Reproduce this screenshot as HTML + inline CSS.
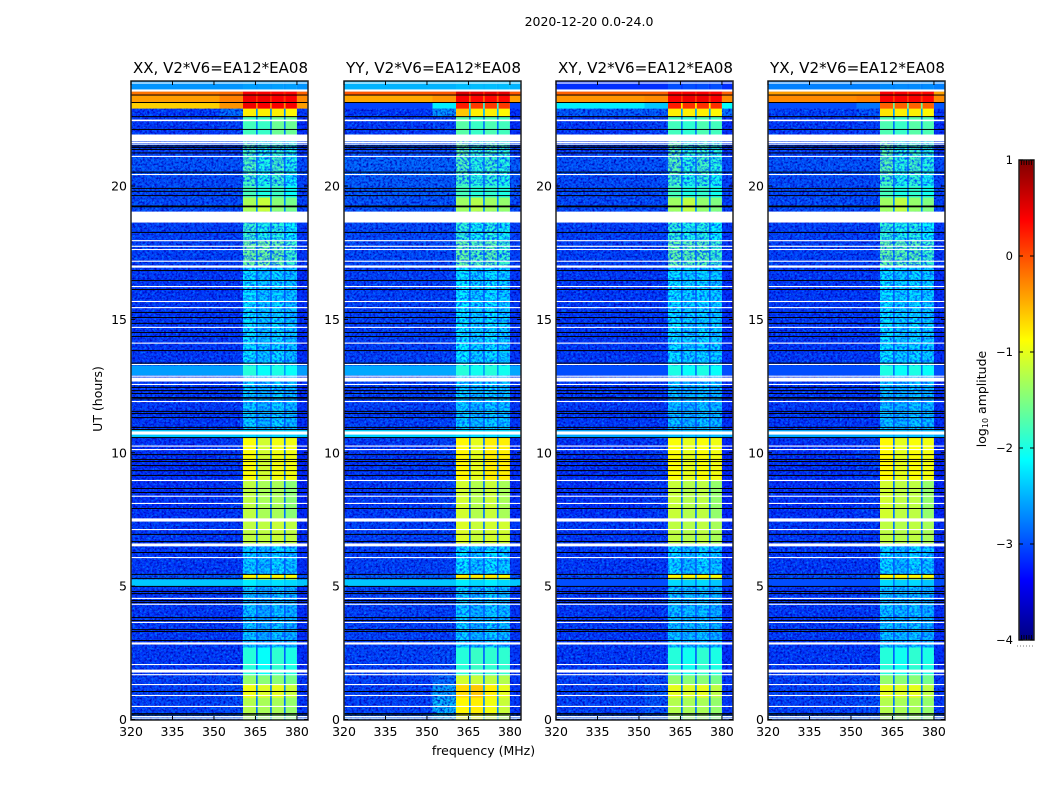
<!DOCTYPE html>
<html lang="en">
<head>
<meta charset="utf-8">
<title>2020-12-20 dynamic spectra</title>
<style>
html,body{margin:0;padding:0;background:#fff;}
svg{display:block;}
text{font-family:"DejaVu Sans","Liberation Sans",sans-serif;fill:#000;}
</style>
</head>
<body>
<svg id="figure" width="1050" height="800" viewBox="0 0 1050 800" xmlns="http://www.w3.org/2000/svg">
  <defs>
    <filter id="speckle-dark" filterUnits="userSpaceOnUse" x="0" y="0" width="1050" height="800" color-interpolation-filters="sRGB">
      <feTurbulence type="fractalNoise" baseFrequency="0.42 0.5" numOctaves="2" seed="4"/>
      <feColorMatrix values="0 0 0 0 0  0 0 0 0 0  0 0 0 0 0.72  2.6 0 0 0 -1.1"/>
      <feComposite in2="SourceAlpha" operator="in"/>
    </filter>
    <filter id="speckle-light" filterUnits="userSpaceOnUse" x="0" y="0" width="1050" height="800" color-interpolation-filters="sRGB">
      <feTurbulence type="fractalNoise" baseFrequency="0.45 0.48" numOctaves="2" seed="11"/>
      <feColorMatrix values="0 0 0 0 0  0 0 0 0 0.5  0 0 0 0 1  0 2.6 0 0 -1.15"/>
      <feComposite in2="SourceAlpha" operator="in"/>
    </filter>
    <filter id="speckle-band" filterUnits="userSpaceOnUse" x="0" y="0" width="1050" height="800" color-interpolation-filters="sRGB">
      <feTurbulence type="fractalNoise" baseFrequency="0.4 0.45" numOctaves="2" seed="7"/>
      <feColorMatrix values="0 0 0 0 0  0 0 0 0 0.32  0 0 0 0 1  3 0 0 0 -1.2"/>
      <feComposite in2="SourceAlpha" operator="in"/>
    </filter>
    <linearGradient id="jet-gradient" x1="0" y1="1" x2="0" y2="0"></linearGradient>
  </defs>
  <text x="589" y="26" font-size="12.5" text-anchor="middle">2020-12-20 0.0-24.0</text>
  <text x="483.5" y="755" font-size="12.5" text-anchor="middle">frequency (MHz)</text>
  <text x="0" y="0" font-size="12.5" text-anchor="middle" transform="translate(102,399) rotate(-90)">UT (hours)</text>
  <text x="0" y="0" font-size="12.5" text-anchor="middle" transform="translate(986,399) rotate(-90)">log<tspan font-size="8" dy="2">10</tspan><tspan dy="-2"> amplitude</tspan></text>
  <g id="panels"></g>
  <g id="colorbar"></g>
</svg>
<script>
// Panel titles and axis ticks
const panelTitles = ['XX, V2*V6=EA12*EA08', 'YY, V2*V6=EA12*EA08', 'XY, V2*V6=EA12*EA08', 'YX, V2*V6=EA12*EA08'];
const freqTicks = [320, 335, 350, 365, 380];
const hourTicks = [0, 5, 10, 15, 20];
const colorbarTicks = [-4, -3, -2, -1, 0, 1];
const colorbarTickLabels = ['\u22124', '\u22123', '\u22122', '\u22121', '0', '1'];

// Frequency channel groups in MHz
const channelStarts = [320, 352, 360.5, 365.2, 370.3, 375.3, 380, 365.2, 370.3, 375.3];
const channelEnds = [352, 360.5, 365.2, 370.3, 375.3, 380, 384, 365.8, 370.9, 375.9];

// Time bands in UT hours
const bandTop = [23.92, 23.54, 23.39, 23.13, 22.90, 22.60, 21.93, 21.11, 20.43, 19.57, 19.04, 17.96, 16.94, 13.27, 12.90, 10.87, 10.57, 8.96, 7.54, 6.60, 5.44, 5.25, 4.99, 2.70, 1.65, 1.31, 0.82, 0.22];
const bandBottom = [23.54, 23.39, 23.13, 22.90, 22.60, 21.93, 21.11, 20.43, 19.57, 19.04, 17.96, 16.94, 13.27, 12.90, 10.87, 10.57, 8.96, 7.54, 6.60, 5.44, 5.25, 4.99, 2.70, 1.65, 1.31, 0.82, 0.22, 0];

// log10 amplitude per band: outL, outM, sb1, sb2, sb3, sb4, outR, notch
const xxLevels = [
[-2.65,-2.65,-2.6,-2.6,-2.6,-2.6,-2.65,-2.65],
[-0.2,-0.15,0.4,0.4,0.35,0.35,-0.1,0.2],
[-0.4,-0.25,0.45,0.45,0.4,0.4,-0.3,0.15],
[-0.65,-0.35,0.45,0.4,0.4,0.4,-0.4,-0.3],
[-3.1,-2.8,-0.8,-0.8,-0.8,-0.85,-3.05,-2.7],
[-3.1,-3.05,-1.8,-1.85,-1.6,-1.6,-3.1,-2.8],
[-3.05,-3.05,-1.8,-2.0,-1.9,-2.0,-3.05,-2.8],
[-2.95,-2.95,-1.75,-2.0,-1.8,-2.0,-2.95,-2.8],
[-3.0,-3.0,-1.8,-2.0,-1.85,-2.1,-3.0,-2.8],
[-3.0,-3.0,-1.3,-1.15,-1.45,-1.55,-3.0,-2.7],
[-3.05,-3.05,-1.85,-2.0,-1.95,-2.1,-3.05,-2.8],
[-3.05,-3.05,-1.6,-1.6,-1.65,-1.85,-3.05,-2.8],
[-3.1,-3.1,-2.2,-2.35,-2.25,-2.35,-3.1,-2.9],
[-2.6,-2.6,-1.95,-2.1,-2.0,-2.1,-2.6,-2.6],
[-3.1,-3.1,-2.3,-2.45,-2.3,-2.4,-3.1,-2.9],
[-2.4,-2.4,-2.35,-2.35,-2.35,-2.35,-2.4,-2.45],
[-3.15,-3.1,-0.9,-1.1,-0.95,-0.95,-3.15,-2.8],
[-3.15,-3.1,-1.2,-1.3,-1.3,-1.45,-3.15,-2.8],
[-3.1,-3.1,-1.2,-1.2,-1.15,-1.2,-3.1,-2.8],
[-3.1,-3.1,-2.3,-2.4,-2.25,-2.35,-3.1,-2.9],
[-2.95,-2.95,-0.85,-0.85,-0.85,-0.9,-2.95,-2.6],
[-2.4,-2.4,-2.2,-2.3,-2.25,-2.3,-2.4,-2.4],
[-3.1,-3.1,-2.35,-2.5,-2.35,-2.45,-3.1,-2.9],
[-3.1,-3.1,-1.95,-2.1,-1.9,-2.0,-3.1,-2.9],
[-3.05,-3.0,-1.4,-1.45,-1.45,-1.55,-3.05,-2.8],
[-3.05,-3.0,-0.95,-1.05,-1.0,-1.15,-3.05,-2.7],
[-3.05,-3.0,-1.25,-1.3,-1.3,-1.4,-3.05,-2.8],
[-2.9,-2.9,-1.35,-1.4,-1.4,-1.5,-2.9,-2.6]
];
const yyLevels = [
[-2.5,-2.5,-2.45,-2.45,-2.45,-2.45,-2.5,-2.5],
[-0.05,-0.05,0.55,0.5,0.5,0.5,-0.05,0.2],
[-0.45,-0.35,0.4,0.35,0.35,0.35,-0.4,-0.1],
[-3.05,-2.2,0.25,0.1,0.1,0.1,-3.05,-1.9],
[-3.1,-2.6,-0.6,-0.8,-0.8,-0.85,-3.1,-2.5],
[-3.1,-3.05,-1.7,-1.85,-1.75,-1.8,-3.1,-2.8],
[-3.0,-3.0,-1.65,-1.9,-1.8,-1.9,-3.0,-2.8],
[-2.85,-2.85,-1.75,-1.95,-1.85,-1.95,-2.85,-2.7],
[-2.9,-2.9,-1.8,-1.95,-1.9,-2.0,-2.9,-2.8],
[-2.95,-2.95,-1.35,-1.25,-1.35,-1.4,-2.95,-2.7],
[-3.0,-3.0,-1.9,-2.05,-1.95,-2.05,-3.0,-2.8],
[-3.0,-3.0,-1.65,-1.75,-1.7,-1.85,-3.0,-2.8],
[-3.05,-3.05,-2.15,-2.3,-2.2,-2.3,-3.05,-2.9],
[-2.55,-2.55,-1.95,-2.05,-1.95,-2.05,-2.55,-2.6],
[-3.05,-3.05,-2.3,-2.4,-2.3,-2.35,-3.05,-2.9],
[-2.35,-2.35,-2.3,-2.3,-2.3,-2.3,-2.35,-2.45],
[-3.1,-3.05,-0.85,-1.0,-0.8,-0.8,-3.1,-2.8],
[-3.1,-3.05,-1.1,-1.25,-1.15,-1.3,-3.1,-2.8],
[-3.05,-3.05,-1.05,-1.15,-1.1,-1.1,-3.05,-2.8],
[-3.05,-3.05,-2.2,-2.35,-2.2,-2.3,-3.05,-2.9],
[-2.9,-2.9,-0.8,-0.8,-0.8,-0.85,-2.9,-2.6],
[-2.4,-2.4,-2.2,-2.3,-2.2,-2.3,-2.4,-2.4],
[-3.05,-3.05,-2.3,-2.45,-2.3,-2.4,-3.05,-2.9],
[-3.05,-3.0,-1.95,-1.85,-1.9,-1.9,-3.05,-2.9],
[-3.05,-2.8,-1.1,-1.15,-1.2,-1.25,-3.05,-2.7],
[-3.05,-2.5,-0.7,-0.6,-0.8,-1.0,-3.05,-2.6],
[-3.05,-2.4,-0.85,-0.8,-0.95,-1.15,-3.05,-2.7],
[-2.85,-2.35,-1.0,-1.0,-1.15,-1.3,-2.85,-2.5]
];
const xyLevels = [
[-3.15,-3.15,-3.0,-3.0,-3.0,-3.0,-3.15,-3.1],
[-0.1,-0.1,0.4,0.4,0.4,0.35,-0.1,0.2],
[-0.35,-0.3,0.4,0.45,0.45,0.4,-0.3,0.1],
[-2.2,-2.4,0.25,0.15,0.15,0.15,-2.1,-0.8],
[-2.9,-2.9,-0.8,-0.8,-0.8,-0.85,-2.8,-2.6],
[-3.1,-3.05,-1.8,-1.9,-1.75,-1.8,-3.1,-2.8],
[-3.05,-3.05,-1.7,-1.95,-1.85,-1.95,-3.05,-2.8],
[-2.95,-2.95,-1.7,-1.95,-1.8,-1.95,-2.95,-2.8],
[-3.0,-3.0,-1.8,-2.0,-1.9,-2.05,-3.0,-2.8],
[-3.0,-3.0,-1.35,-1.2,-1.4,-1.5,-3.0,-2.7],
[-3.05,-3.05,-1.9,-2.0,-1.95,-2.1,-3.05,-2.8],
[-3.05,-3.05,-1.65,-1.7,-1.7,-1.85,-3.05,-2.8],
[-3.1,-3.1,-2.2,-2.3,-2.25,-2.3,-3.1,-2.9],
[-3.0,-3.0,-2.0,-2.1,-2.0,-2.1,-3.0,-2.8],
[-3.1,-3.1,-2.35,-2.45,-2.35,-2.4,-3.1,-2.9],
[-2.55,-2.55,-2.45,-2.45,-2.45,-2.45,-2.55,-2.6],
[-3.15,-3.1,-0.9,-1.0,-0.9,-0.95,-3.15,-2.8],
[-3.15,-3.1,-1.15,-1.25,-1.2,-1.4,-3.15,-2.8],
[-3.1,-3.1,-1.2,-1.25,-1.2,-1.3,-3.1,-2.8],
[-3.1,-3.1,-2.25,-2.4,-2.25,-2.35,-3.1,-2.9],
[-3.0,-3.0,-0.85,-0.85,-0.85,-0.9,-3.0,-2.6],
[-3.0,-3.0,-2.3,-2.35,-2.3,-2.4,-3.0,-2.8],
[-3.1,-3.1,-2.35,-2.4,-2.35,-2.45,-3.1,-2.9],
[-3.1,-3.1,-1.95,-2.05,-1.9,-2.0,-3.1,-2.9],
[-3.05,-3.0,-1.4,-1.45,-1.45,-1.55,-3.05,-2.8],
[-3.05,-2.95,-1.0,-1.05,-1.0,-1.2,-3.05,-2.7],
[-3.05,-2.95,-1.25,-1.3,-1.3,-1.4,-3.05,-2.8],
[-2.9,-2.9,-1.35,-1.4,-1.4,-1.5,-2.9,-2.6]
];
const yxLevels = [
[-2.75,-2.75,-2.7,-2.7,-2.7,-2.7,-2.75,-2.75],
[-0.4,-0.4,0.4,0.4,0.35,0.35,-0.4,0.1],
[-0.3,-0.25,0.4,0.4,0.4,0.35,-0.3,0.1],
[-3.0,-2.8,-0.1,-0.1,-0.1,-0.1,-2.95,-1.6],
[-3.05,-2.95,-0.75,-0.8,-0.8,-0.85,-3.05,-2.6],
[-3.1,-3.05,-1.75,-1.85,-1.7,-1.75,-3.1,-2.8],
[-3.05,-3.05,-1.7,-1.95,-1.85,-1.95,-3.05,-2.8],
[-2.95,-2.95,-1.7,-1.95,-1.8,-1.95,-2.95,-2.8],
[-3.0,-3.0,-1.8,-2.0,-1.9,-2.05,-3.0,-2.8],
[-3.0,-3.0,-1.35,-1.2,-1.4,-1.5,-3.0,-2.7],
[-3.05,-3.05,-1.9,-2.0,-1.95,-2.1,-3.05,-2.8],
[-3.05,-3.05,-1.65,-1.7,-1.7,-1.85,-3.05,-2.8],
[-3.1,-3.1,-2.2,-2.3,-2.25,-2.3,-3.1,-2.9],
[-3.0,-3.0,-2.0,-2.1,-2.0,-2.1,-3.0,-2.8],
[-3.1,-3.1,-2.35,-2.45,-2.35,-2.4,-3.1,-2.9],
[-2.55,-2.55,-2.45,-2.45,-2.45,-2.45,-2.55,-2.6],
[-3.15,-3.1,-0.85,-1.0,-0.9,-0.95,-3.15,-2.8],
[-3.15,-3.1,-1.1,-1.2,-1.2,-1.4,-3.15,-2.8],
[-3.1,-3.1,-1.2,-1.25,-1.2,-1.3,-3.1,-2.8],
[-3.1,-3.1,-2.25,-2.4,-2.25,-2.35,-3.1,-2.9],
[-3.0,-3.0,-0.85,-0.85,-0.85,-0.9,-3.0,-2.6],
[-3.0,-3.0,-2.3,-2.35,-2.3,-2.4,-3.0,-2.8],
[-3.1,-3.1,-2.35,-2.4,-2.35,-2.45,-3.1,-2.9],
[-3.1,-3.1,-1.95,-2.05,-1.9,-2.0,-3.1,-2.9],
[-3.05,-3.0,-1.4,-1.45,-1.45,-1.55,-3.05,-2.8],
[-3.05,-3.0,-1.0,-1.05,-1.0,-1.2,-3.05,-2.7],
[-3.05,-3.0,-1.25,-1.3,-1.3,-1.4,-3.05,-2.8],
[-2.9,-2.9,-1.35,-1.4,-1.4,-1.5,-2.9,-2.6]
];

// Flagged time ranges (white) and dropped integrations (black), UT hours
const flagBlockTop = [23.62, 22.49, 21.93, 19.04, 17.02, 12.82, 10.80, 7.54, 6.60, 2.89, 1.87];
const flagBlockBottom = [23.54, 22.43, 21.67, 18.63, 16.94, 12.67, 10.68, 7.42, 6.49, 2.81, 1.76];
const flagLineHours = [23.86, 21.63, 21.57, 21.11, 20.43, 17.95, 17.74, 17.62, 17.18, 16.23, 15.67, 15.44, 14.70, 14.11, 13.31, 12.87, 12.56, 11.92, 10.25, 10.12, 8.96, 8.37, 8.10, 7.12, 6.07, 4.54, 4.32, 3.64, 2.06, 1.68, 1.31, 0.90, 0.49, 0.11, 0.05];
const dropLineHours = [23.41, 23.13, 22.60, 22.12, 21.50, 21.44, 21.37, 21.24, 20.52, 19.91, 19.80, 19.64, 19.25, 19.22, 18.26, 16.83, 16.46, 16.12, 15.26, 15.07, 14.85, 14.51, 14.36, 13.83, 13.36, 12.45, 12.33, 12.22, 12.07, 12.02, 11.55, 11.47, 11.32, 10.95, 10.87, 10.57, 9.93, 9.75, 9.67, 9.52, 9.33, 9.15, 8.66, 8.51, 7.91, 6.94, 6.67, 6.26, 5.44, 5.29, 4.99, 4.80, 4.72, 4.46, 4.39, 3.82, 3.71, 3.37, 3.30, 2.96, 1.05, 0.22, 0.17];

// Time spans where the receiver noise grain is visible (UT hours)
const outGrainTop = [22.90, 12.90, 10.57, 4.99];
const outGrainBottom = [13.27, 10.87, 5.25, 0];
const bandGrainTop = [21.93, 19.04, 12.90, 6.60, 4.99];
const bandGrainBottom = [20.00, 13.27, 10.87, 5.44, 2.70];

const panelLevels = [xxLevels, yyLevels, xyLevels, yxLevels];
const panelNames = ['xx', 'yy', 'xy', 'yx'];
const panelLefts = [131, 344, 556, 768];

const NS = 'http://www.w3.org/2000/svg';
const panelWidth = 177;
const plotTop = 81;
const plotBottom = 720;

function xScale(left, mhz) { return left + (mhz - 320) * panelWidth / 64; }
function yScale(hour) { return 719.5 - hour * 26.675; }
function clamp01(v) { return Math.max(0, Math.min(1, v)); }
function jet(level) {
  const t = clamp01((level + 4) / 5);
  const r = clamp01(Math.min(4 * t - 1.5, -4 * t + 4.5));
  const g = clamp01(Math.min(4 * t - 0.5, -4 * t + 3.5));
  const b = clamp01(Math.min(4 * t + 0.5, -4 * t + 2.5));
  return 'rgb(' + Math.round(r * 255) + ',' + Math.round(g * 255) + ',' + Math.round(b * 255) + ')';
}
function make(tag, attrs, parent) {
  const el = document.createElementNS(NS, tag);
  Object.keys(attrs).forEach(function (k) { el.setAttribute(k, attrs[k]); });
  parent.appendChild(el);
  return el;
}
function grain(parent, x0, x1, topHour, bottomHour, filterId) {
  const y0 = yScale(topHour);
  const y1 = yScale(bottomHour);
  const tex = make('rect', { x: x0.toFixed(2), y: y0.toFixed(2), width: (x1 - x0).toFixed(2), height: (y1 - y0).toFixed(2), fill: '#000', filter: 'url(#' + filterId + ')' }, parent);
  
  
}

const panelsRoot = document.getElementById('panels');
const columnLevelIndex = [0, 1, 2, 3, 4, 5, 6, 7, 7, 7];

panelLefts.forEach(function (left, p) {
  const right = left + panelWidth;
  const group = make('g', {}, panelsRoot);
  
  

  const levels = panelLevels[p];
  bandTop.forEach(function (top, b) {
    const y0 = yScale(top);
    const y1 = yScale(bandBottom[b]);
    channelStarts.forEach(function (start, c) {
      const x0 = xScale(left, start);
      const x1 = xScale(left, channelEnds[c]);
      const cell = make('rect', {
        x: x0.toFixed(2), y: y0.toFixed(2),
        width: (x1 - x0).toFixed(2), height: (y1 - y0 + 0.3).toFixed(2),
        fill: jet(levels[b][columnLevelIndex[c]])
      }, group);
      
      
    });
  });

  const bandLeft = xScale(left, 360.5);
  const bandRight = xScale(left, 380);
  outGrainTop.forEach(function (top, i) {
    grain(group, left, bandLeft, top, outGrainBottom[i], 'speckle-light');
    grain(group, left, bandLeft, top, outGrainBottom[i], 'speckle-dark');
    grain(group, bandRight, right, top, outGrainBottom[i], 'speckle-dark');
  });
  bandGrainTop.forEach(function (top, i) {
    grain(group, bandLeft, bandRight, top, bandGrainBottom[i], 'speckle-band');
  });

  flagBlockTop.forEach(function (top, i) {
    const y0 = yScale(top);
    const block = make('rect', { x: left, y: y0.toFixed(2), width: panelWidth, height: (yScale(flagBlockBottom[i]) - y0).toFixed(2), fill: '#fff' }, group);
    
    
  });
  flagLineHours.forEach(function (h) {
    const line = make('rect', { x: left, y: (yScale(h) - 0.55).toFixed(2), width: panelWidth, height: 1.1, fill: '#fff' }, group);
    
    
  });
  dropLineHours.forEach(function (h) {
    const line = make('rect', { x: left, y: (yScale(h) - 0.5).toFixed(2), width: panelWidth, height: 1, fill: '#000' }, group);
    
    
  });

  const frame = make('rect', { x: left, y: plotTop, width: panelWidth, height: plotBottom - plotTop, fill: 'none', stroke: '#222', 'stroke-width': 1.5 }, group);
  
  

  freqTicks.forEach(function (f) {
    const x = xScale(left, f);
    const tb = make('line', { x1: x, x2: x, y1: plotBottom, y2: plotBottom - 4, stroke: '#000', 'stroke-width': 1 }, group);
    
    
    const tt = make('line', { x1: x, x2: x, y1: plotTop, y2: plotTop + 4, stroke: '#000', 'stroke-width': 1 }, group);
    
    
    const label = make('text', { x: x, y: 736, 'font-size': 12.5, 'text-anchor': 'middle' }, group);
    label.textContent = String(f);
    
    
  });
  hourTicks.forEach(function (h) {
    const y = yScale(h);
    const tl = make('line', { x1: left, x2: left + 4, y1: y, y2: y, stroke: '#000', 'stroke-width': 1 }, group);
    
    
    const tr = make('line', { x1: right, x2: right - 4, y1: y, y2: y, stroke: '#000', 'stroke-width': 1 }, group);
    
    
    const label = make('text', { x: left - 4, y: y + 4.5, 'font-size': 12.5, 'text-anchor': 'end' }, group);
    label.textContent = String(h);
    
    
  });

  const title = make('text', { x: left + panelWidth / 2 + 1, y: 73, 'font-size': 15.2, 'text-anchor': 'middle', textLength: 175, lengthAdjust: 'spacingAndGlyphs' }, group);
  title.textContent = panelTitles[p];
  
  
});

// Colorbar
const cbarLeft = 1019;
const cbarRight = 1034;
const cbarTop = 160;
const cbarBottom = 640;
function cbarScale(level) { return cbarBottom - (level + 4) * (cbarBottom - cbarTop) / 5; }

const grad = document.getElementById('jet-gradient');
for (let i = 0; i <= 64; i++) {
  make('stop', { offset: (i / 64 * 100).toFixed(2) + '%', 'stop-color': jet(-4 + 5 * i / 64) }, grad);
}
const cbarRoot = document.getElementById('colorbar');
const cbarRect = make('rect', { x: cbarLeft, y: cbarTop, width: cbarRight - cbarLeft, height: cbarBottom - cbarTop, fill: 'url(#jet-gradient)', stroke: '#222', 'stroke-width': 1.5 }, cbarRoot);


colorbarTicks.forEach(function (lv, i) {
  const y = cbarScale(lv);
  const a = make('line', { x1: cbarLeft, x2: cbarLeft + 4, y1: y, y2: y, stroke: '#000', 'stroke-width': 1 }, cbarRoot);
  
  
  const b = make('line', { x1: cbarRight, x2: cbarRight - 4, y1: y, y2: y, stroke: '#000', 'stroke-width': 1 }, cbarRoot);
  
  
  const label = make('text', { x: cbarLeft - 6, y: y + 4, 'font-size': 11.5, 'text-anchor': 'end' }, cbarRoot);
  label.textContent = colorbarTickLabels[i];
  
  
});
for (let k = 1; k < 6; k++) {
  const x = cbarLeft + k * (cbarRight - cbarLeft) / 6;
  const t = make('line', { x1: x, x2: x, y1: cbarTop, y2: cbarTop + 5, stroke: '#000', 'stroke-width': 0.8 }, cbarRoot);
  
  
  const u = make('line', { x1: x, x2: x, y1: cbarBottom, y2: cbarBottom - 5, stroke: '#000', 'stroke-width': 0.8 }, cbarRoot);
  
  
}
const dots = make('line', { x1: cbarLeft - 2, x2: cbarRight, y1: 646, y2: 646, stroke: '#777', 'stroke-width': 1, 'stroke-dasharray': '1 2' }, cbarRoot);


</script>
</body>
</html>
